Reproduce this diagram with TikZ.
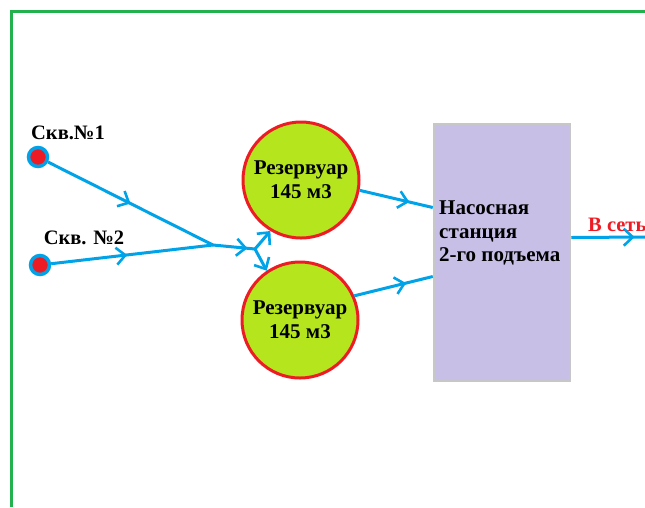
\documentclass[tikz,border=0pt]{standalone}
\usepackage{fontspec}
\setmainfont{Liberation Serif}
\usetikzlibrary{arrows.meta,decorations.markings}

\definecolor{pipeblue}{RGB}{0,162,232}
\definecolor{paintred}{RGB}{237,28,36}
\definecolor{paintlime}{RGB}{181,230,29}
\definecolor{paintlav}{RGB}{200,191,231}
\definecolor{paintgreen}{RGB}{34,177,76}

\tikzset{
  barb/.tip={Straight Barb[length=9pt,width=17pt,line width=2.6pt]},
  flow/.style={draw=pipeblue, line width=3pt,
    postaction={decorate},
    decoration={markings, mark=at position #1 with {\arrow{barb}}}},
  feed/.style={draw=pipeblue, line width=3pt, -{barb}},
  well/.style={circle, fill=paintred, draw=pipeblue, line width=3.5pt,
    minimum size=19pt, inner sep=0pt},
  tank/.style={circle, fill=paintlime, draw=paintred, line width=3pt,
    minimum size=116pt, inner sep=0pt, align=center,
    font=\bfseries\fontsize{21}{24}\selectfont},
  station/.style={rectangle, fill=paintlav, draw=black!22, line width=2.5pt,
    minimum width=136pt, minimum height=257pt},
  lbl/.style={font=\bfseries\fontsize{20.5}{24}\selectfont, inner sep=0pt}
}

\begin{document}
\begin{tikzpicture}[x=1pt,y=-1pt]
  \useasboundingbox (0,0) rectangle (645,507);
  % Frame
  \draw[paintgreen, line width=3pt] (11,507) -- (11,11.5) -- (645,11.5);

  % Wells
  \node[well] (w1) at (38,157) {};
  \node[well] (w2) at (40,265) {};
  \node[lbl] (l1) at (68,133) {Скв.№1};
  \node[lbl] (l2) at (84,238) {Скв. №2};

  % Tanks and pump station
  \node[tank] (r1) at (301,180) {Резервуар\\145 м3};
  \node[tank] (r2) at (300,320) {Резервуар\\145 м3};
  \node[station] (ns) at (502,252.5) {};
  \node[lbl, anchor=west, align=left, font=\bfseries\fontsize{21}{23.5}\selectfont]
    (nst) at (439,233) {Насосная\\станция\\2-го подъема};

  % Junctions
  \coordinate (j1) at (213,245);
  \coordinate (j2) at (255,249);
  \coordinate (out) at (645,237);

  % Pipes
  \draw[flow=0.5] (w1) -- (j1);
  \draw[flow=0.47] (w2) -- (j1);
  \draw[flow=0.82] (j1) -- (j2);
  \draw[feed] (j2) -- (r1.239);
  \draw[feed] (j2) -- (r2.124);
  \draw[flow=0.68] (r1.-10) -- ([yshift=45pt]ns.west);
  \draw[flow=0.66] (r2.24) -- ([yshift=-24pt]ns.west);
  \draw[flow=0.86] ([yshift=15pt]ns.east) -- (out);
  \node[lbl, anchor=west, text=paintred] (net) at (588,225) {В сеть};
\end{tikzpicture}
\end{document}
